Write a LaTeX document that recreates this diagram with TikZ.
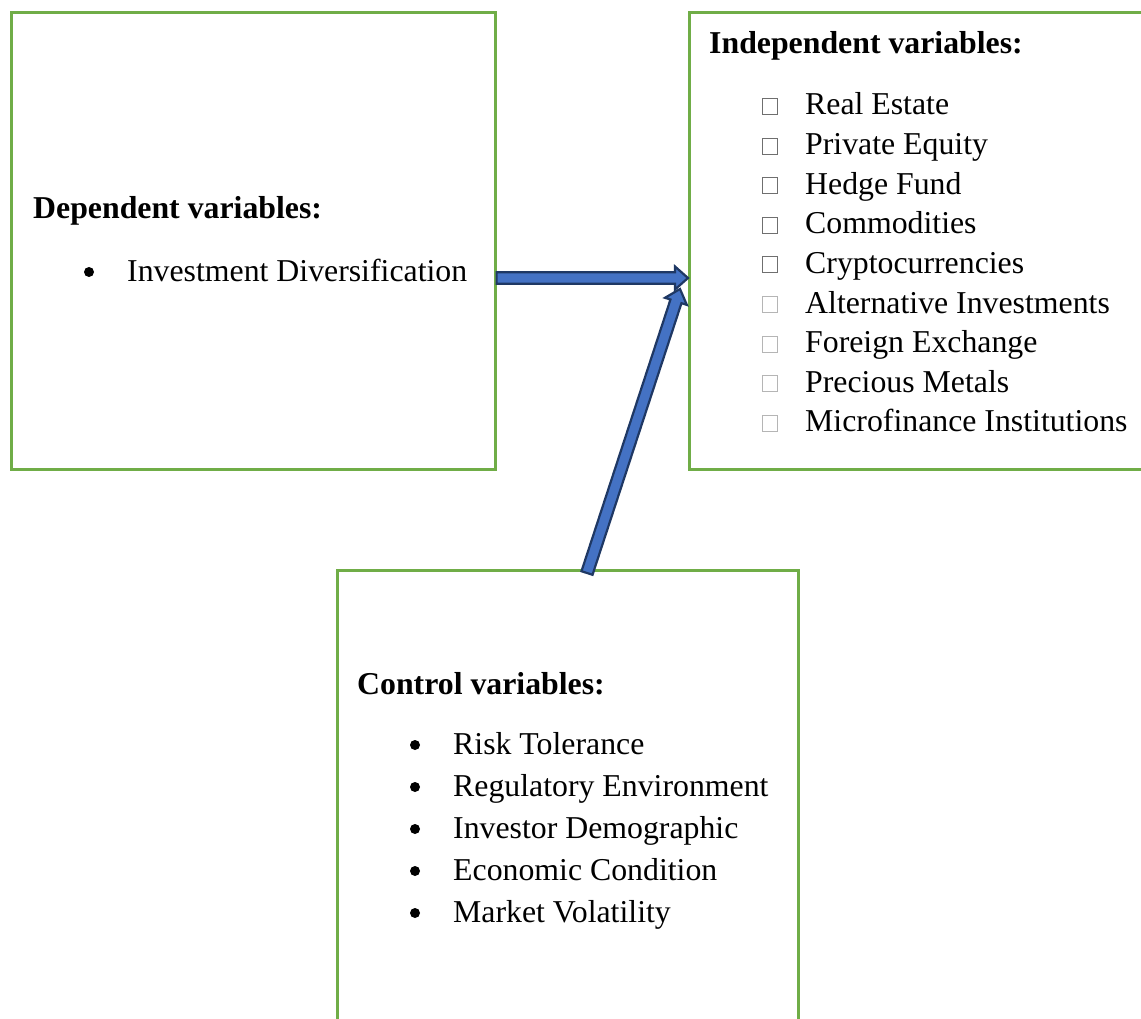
\documentclass[tikz,border=0pt]{standalone}
\usepackage{fontspec}
\setmainfont{Liberation Serif}
\usetikzlibrary{calc}
\definecolor{boxgreen}{HTML}{70AD47}
\definecolor{arrowfill}{HTML}{4472C4}
\definecolor{arrowline}{HTML}{1F3864}
\definecolor{chkdark}{HTML}{6F6F6F}
\definecolor{chklight}{HTML}{B5B5B5}
\tikzset{
  framebox/.style={draw=boxgreen, line width=2.6pt, inner sep=0pt, anchor=north west},
  txt/.style={anchor=base west, inner sep=0pt, font=\fontsize{31.8}{38}\selectfont},
  head/.style={txt, font=\fontsize{31.8}{38}\selectfont\bfseries},
  chk/.style={draw=#1, line width=0.9pt, inner sep=0pt, minimum width=14.5pt, minimum height=16pt, anchor=south west},
  dotb/.style={circle, fill=black, inner sep=0pt, minimum size=10pt},
  blockarrow/.style={fill=arrowfill, draw=arrowline, line width=2.2pt, line join=miter}
}
\newcommand{\myblockarrow}[2]{%
  \draw[blockarrow]
    ($(#1)!5.8pt!90:(#2)$) --
    ($($(#2)!13pt!(#1)$)!5.8pt!90:(#2)$) --
    ($($(#2)!13pt!(#1)$)!11.5pt!90:(#2)$) --
    (#2) --
    ($($(#2)!13pt!(#1)$)!11.5pt!-90:(#2)$) --
    ($($(#2)!13pt!(#1)$)!5.8pt!-90:(#2)$) --
    ($(#1)!5.8pt!-90:(#2)$) -- cycle;}
\begin{document}
\begin{tikzpicture}[x=1pt, y=-1pt]
\useasboundingbox (0,0) rectangle (1141,1019);
\clip (0,0) rectangle (1141,1019);
\fill[white] (0,0) rectangle (1141,1019);

% boxes
\node[framebox, minimum width=484pt, minimum height=457pt] (dep) at (10,11) {};
\node[framebox, minimum width=490pt, minimum height=457pt] (ind) at (688,11) {};
\node[framebox, minimum width=461pt, minimum height=490pt] (ctl) at (336,569) {};

% dependent
\node[head] (depT) at (33,219) {Dependent variables:};
\node[dotb] (depB1) at (89,272) {};
\node[txt] (depI1) at (127,281) {Investment Diversification};

% independent
\node[head] (indT) at (709,54) {Independent variables:};
\foreach \t [count=\i] in {Real Estate, Private Equity, Hedge Fund, Commodities, Cryptocurrencies, Alternative Investments, Foreign Exchange, Precious Metals, Microfinance Institutions}{
  \pgfmathsetmacro{\yy}{115+(\i-1)*39.6}
  \ifnum\i<6
    \node[chk=chkdark] (indC\i) at (762,\yy) {};
  \else
    \node[chk=chklight] (indC\i) at (762,\yy) {};
  \fi
  \node[txt] (indI\i) at (805,\yy) {\t};
}

% control
\node[head] (ctlT) at (357,694) {Control variables:};
\foreach \t [count=\i] in {Risk Tolerance, Regulatory Environment, Investor Demographic, Economic Condition, Market Volatility}{
  \pgfmathsetmacro{\yy}{754+(\i-1)*42}
  \node[dotb] (ctlB\i) at (415,\yy-9) {};
  \node[txt] (ctlI\i) at (453,\yy) {\t};
}

% arrows
\coordinate (a1s) at ($(dep.north east)+(0,267)$);
\coordinate (a1e) at ($(ind.north west)+(0,267)$);
\coordinate (a2s) at ($(ctl.north west)+(251,4)$);
\coordinate (a2e) at ($(ind.north west)+(-8,278)$);
\myblockarrow{a1s}{a1e}
\myblockarrow{a2s}{a2e}
\end{tikzpicture}
\end{document}
